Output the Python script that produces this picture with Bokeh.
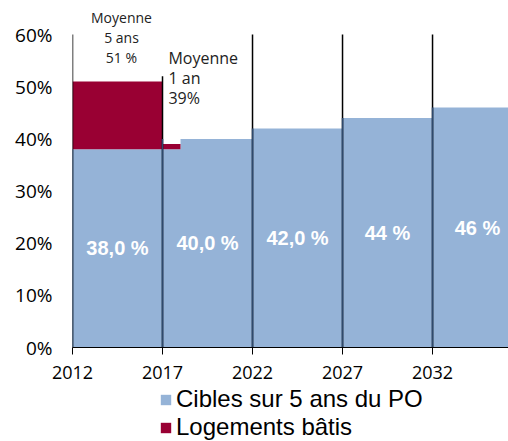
from bokeh.plotting import figure
from bokeh.layouts import column
from bokeh.models import (FixedTicker, PrintfTickFormatter, Legend, LegendItem, Range1d)
from bokeh.core.properties import value
from bokeh.embed import file_html
from bokeh.resources import INLINE

# ---- data ----
period_start = [2012, 2017, 2022, 2027, 2032]
period_end = [2017, 2022, 2027, 2032, 2037]
cibles = [38.0, 40.0, 42.0, 44.0, 46.0]
cible_labels = ["38,0 %", "40,0 %", "42,0 %", "44 %", "46 %"]

built_start = [2012, 2017]
built_end = [2017, 2018]
built_base = [38.0, 38.0]
built_value = [51.0, 39.0]
note_5ans = ["Moyenne", "5 ans", "51 %"]
note_1an = ["Moyenne", "1 an", "39%"]

x_ticks = [2012, 2017, 2022, 2027, 2032]
y_ticks = [0, 10, 20, 30, 40, 50, 60]
divider_years = [2012, 2017, 2022, 2027, 2032]
divider_tops = [60, 52, 60, 60, 60]

BLUE = "#95B3D7"
RED = "#990033"

p = figure(width=508, height=390, x_range=Range1d(2012, 2036.22), y_range=Range1d(0, 65),
           output_backend="svg", toolbar_location=None,
           min_border_left=72, min_border_right=0, min_border_top=8, min_border_bottom=43)
p.outline_line_color = None
p.xgrid.visible = False
p.ygrid.visible = False
p.background_fill_color = "white"
p.border_fill_color = "white"

blue_r = p.quad(left=period_start, right=period_end, bottom=0, top=cibles,
                fill_color=BLUE, line_color=None)

# area above the built bars is left blank up to the period target
cover_top = []
for s in built_start:
    for ps, pe, c in zip(period_start, period_end, cibles):
        if ps <= s < pe:
            cover_top.append(c)
p.quad(left=built_start, right=built_end, bottom=built_base, top=cover_top,
       fill_color="white", line_color=None)
red_r = p.quad(left=built_start, right=built_end, bottom=built_base, top=built_value,
               fill_color=RED, line_color=None)

# divider lines
p.segment(x0=divider_years, y0=0, x1=divider_years, y1=divider_tops,
          line_color="black", line_width=1.5)
p.segment(x0=divider_years, y0=0, x1=divider_years, y1=cibles,
          line_color="#2F4A6D", line_width=1.5)

# bar labels
mids = [(a + b) / 2 for a, b in zip(period_start, period_end)]
halves = [c / 2 for c in cibles]
p.text(x=mids, y=halves, text=cible_labels, text_color="white",
       text_font=value("Liberation Sans"), text_font_style="bold", text_font_size="20px",
       text_align="center", text_baseline="middle")

# notes
p.text(x=[2014.72] * 3, y=[63.3, 59.4, 55.6], text=note_5ans, text_color="#222222",
       text_font=value("Open Sans"), text_font_size="14px",
       text_align="center", text_baseline="middle")
p.text(x=[2017.33] * 3, y=[55.6, 51.6, 47.9], text=note_1an, text_color="#222222",
       text_font=value("Open Sans"), text_font_size="16px",
       text_align="left", text_baseline="middle")

# axes
p.xaxis.ticker = FixedTicker(ticks=x_ticks)
p.xaxis.major_label_text_font = "Open Sans"
p.xaxis.major_label_text_font_size = "18px"
p.xaxis.major_label_text_color = "black"
p.xaxis.major_tick_out = 7
p.xaxis.major_tick_in = 0
p.xaxis.minor_tick_line_color = None
p.xaxis.axis_line_color = "black"
p.xaxis.major_tick_line_color = "black"
p.xaxis.major_label_standoff = 11

p.yaxis.ticker = FixedTicker(ticks=y_ticks)
p.yaxis.formatter = PrintfTickFormatter(format="%d%%")
p.yaxis.major_label_text_font = "Open Sans"
p.yaxis.major_label_text_font_size = "19px"
p.yaxis.major_label_text_color = "black"
p.yaxis.axis_line_color = None
p.yaxis.major_tick_line_color = None
p.yaxis.minor_tick_line_color = None
p.yaxis.major_tick_out = 0
p.yaxis.major_label_standoff = 20

# legend strip below the chart (same series, drawn out of view, only for the legend keys)
leg = figure(width=508, height=51, x_range=Range1d(0, 1), y_range=Range1d(0, 1),
             output_backend="svg", toolbar_location=None,
             x_axis_location=None, y_axis_location=None, min_border=0)
leg.outline_line_color = None
leg.xgrid.visible = False
leg.ygrid.visible = False
leg_blue = leg.quad(left=period_start, right=period_end, bottom=0, top=cibles,
                    fill_color=BLUE, line_color=None)
leg_red = leg.quad(left=built_start, right=built_end, bottom=built_base, top=built_value,
                   fill_color=RED, line_color=None)

legend = Legend(items=[LegendItem(label="Cibles sur 5 ans du PO", renderers=[leg_blue]),
                       LegendItem(label="Logements bâtis", renderers=[leg_red])],
                location=(87, 0), orientation="vertical",
                label_text_font="Liberation Sans", label_text_font_size="24px",
                label_text_color="black",
                glyph_width=13, glyph_height=13, label_standoff=4, spacing=0,
                padding=0, margin=0, border_line_color=None, background_fill_alpha=0,
                label_height=25)
leg.add_layout(legend, "center")

open("out.html", "w").write(file_html(column(p, leg, spacing=0), INLINE))
